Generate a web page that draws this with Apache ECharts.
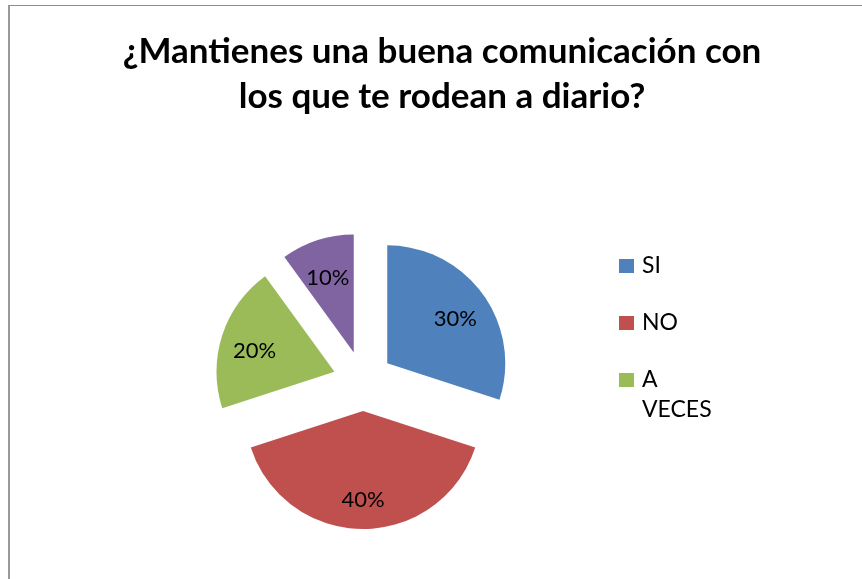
<!DOCTYPE html>
<html>
<head>
<meta charset="utf-8">
<script src="https://cdn.jsdelivr.net/npm/echarts@6/dist/echarts.min.js"></script>
<style>
  body { margin: 0; background: #fff; }
  #frame {
    position: absolute; left: 8px; top: 5px; width: 900px; height: 600px;
    border-left: 2px solid #9a9a9a; border-top: 1px solid #8c8c8c;
  }
  #chart { position: absolute; left: 0; top: 0; width: 862px; height: 579px; }
</style>
</head>
<body>
<div id="frame"></div>
<div id="chart"></div>
<script>
// datos del grafico
var titleText = "¿Mantienes una buena comunicación con\nlos que te rodean a diario?";
var categories = ["SI", "NO", "A VECES", ""];
var values = [30, 40, 20, 10];
var legendNames = ["SI", "NO", "A VECES"];
var colors = ["#4F81BD", "#C0504D", "#9BBB59", "#8064A2"];

var myChart = echarts.init(document.getElementById("chart"));

var pieData = categories.map(function (name, i) {
  return { name: name, value: values[i], selected: true };
});

function legendItem(name, top) {
  return {
    data: [name],
    left: 619,
    top: top,
    padding: 0,
    orient: "vertical",
    itemWidth: 15,
    itemHeight: 14,
    icon: "rect",
    selectedMode: false,
    // "A VECES" va en dos lineas, con el cuadro alineado a la primera
    formatter: function (n) {
      return n === "A VECES" ? "\nA\nVECES" : n;
    },
    textStyle: {
      fontFamily: "Lato",
      fontSize: 23,
      color: "#000",
      lineHeight: 30,
      padding: [0, 0, 0, 3],
    },
  };
}

var option = {
  backgroundColor: "rgba(0,0,0,0)",
  animation: false,
  title: {
    text: titleText,
    left: 442,
    top: 29,
    padding: 0,
    textAlign: "center",
    textStyle: {
      fontFamily: "Lato",
      fontWeight: "bold",
      fontSize: 35,
      lineHeight: 45,
      color: "#000",
    },
  },
  legend: [
    legendItem(legendNames[0], 251),
    legendItem(legendNames[1], 308),
    legendItem(legendNames[2], 335),
  ],
  series: [
    {
      name: "pie",
      type: "pie",
      center: [363, 381],
      radius: [0, 118],
      startAngle: 90,
      clockwise: true,
      selectedMode: "multiple",
      selectedOffset: 30,
      color: colors,
      label: { show: false },
      labelLine: { show: false },
      emphasis: { disabled: true },
      data: pieData,
    },
    {
      // capa transparente solo para colocar las etiquetas
      name: "labels",
      type: "pie",
      center: [363, 381],
      radius: [44, 118],
      startAngle: 90,
      clockwise: true,
      selectedMode: "multiple",
      selectedOffset: 30,
      silent: true,
      itemStyle: { color: "transparent" },
      label: {
        show: true,
        position: "inside",
        formatter: "{c}%",
        fontFamily: "Lato",
        fontSize: 22,
        color: "#000",
      },
      labelLayout: { dy: 5 },
      labelLine: { show: false },
      emphasis: { disabled: true },
      data: pieData,
    },
  ],
};
myChart.setOption(option);
</script>
</body>
</html>
